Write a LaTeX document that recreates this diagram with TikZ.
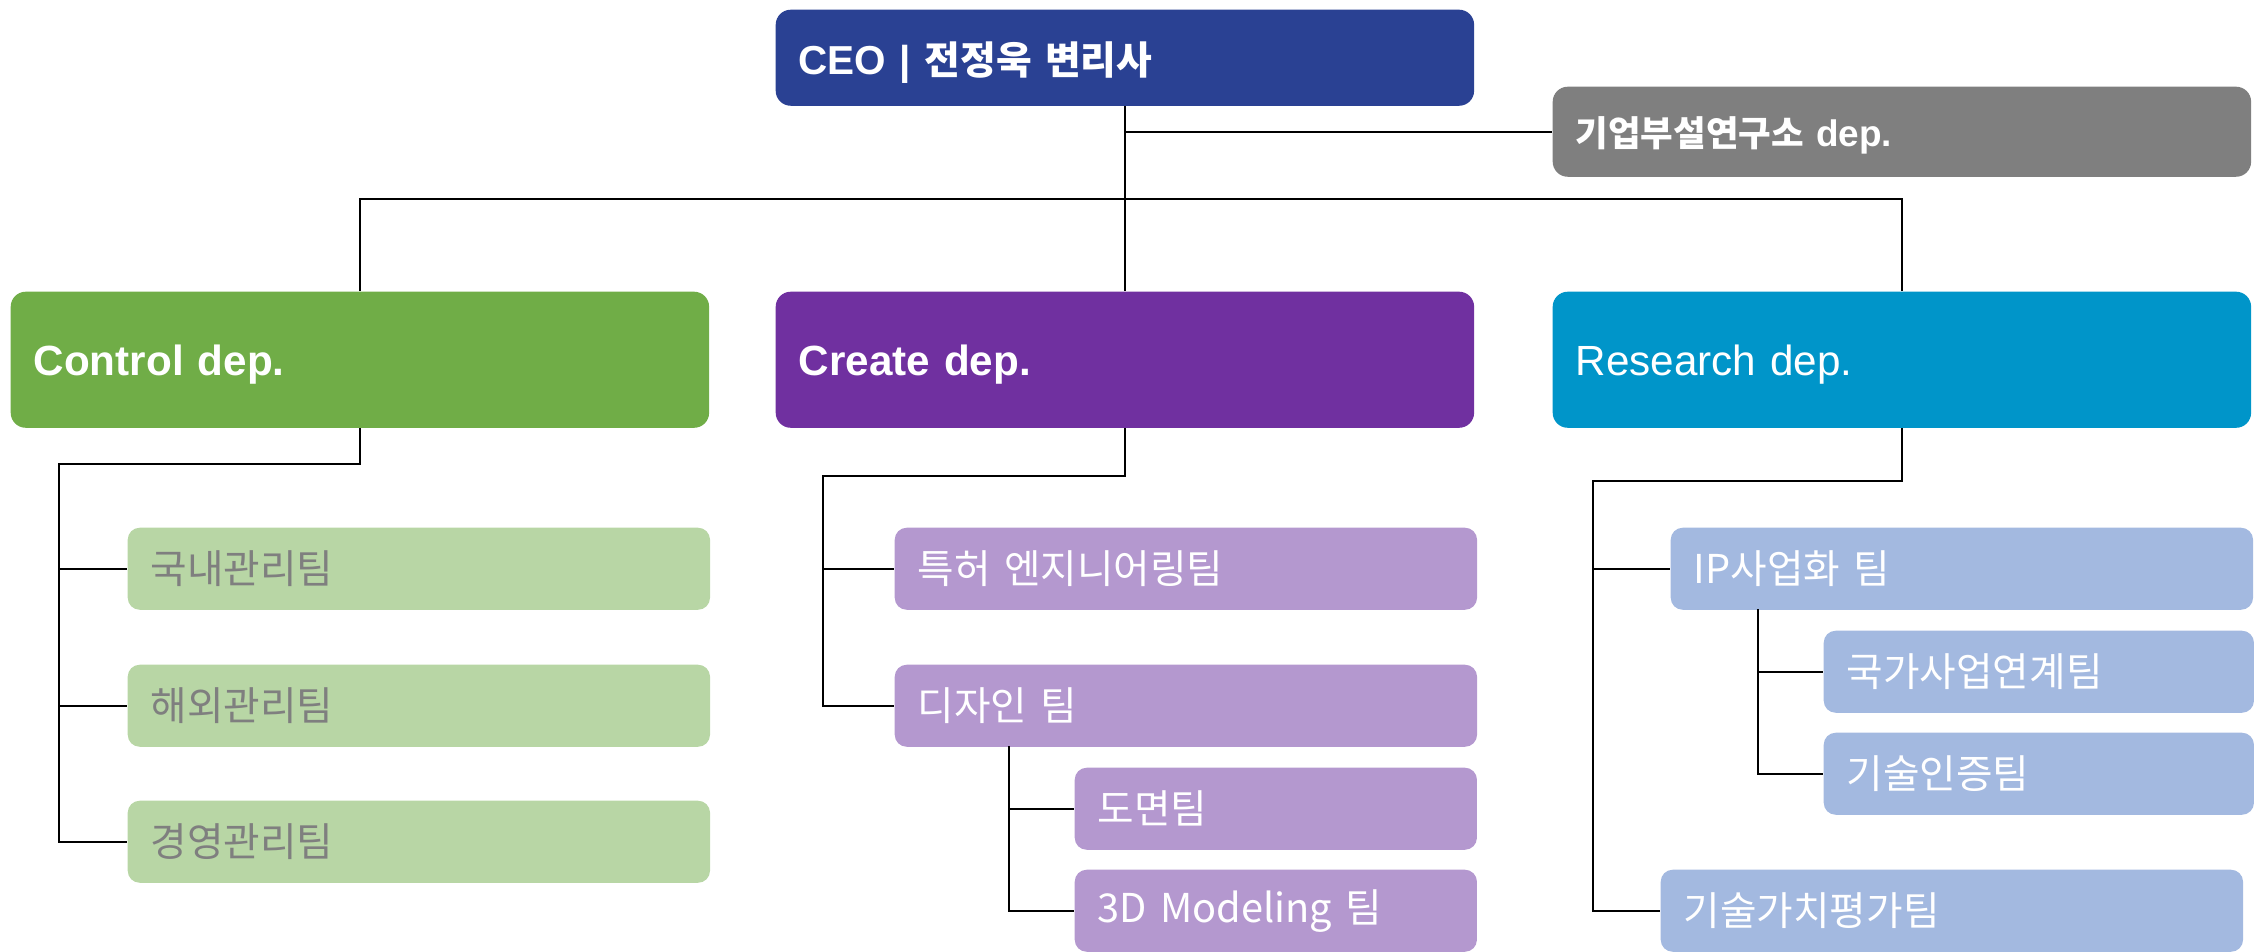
\documentclass[tikz,border=0pt]{standalone}
\usepackage{fontspec}
\setmainfont{Liberation Sans}
\newfontfamily\kr{Noto Sans CJK KR}
\newfontfamily\krhead[Scale=0.96]{Noto Sans CJK KR}
\usetikzlibrary{calc}

\definecolor{ceoblue}{HTML}{2A4193}
\definecolor{labgray}{HTML}{7F7F7F}
\definecolor{ctrlgreen}{HTML}{70AD47}
\definecolor{creapurple}{HTML}{7030A0}
\definecolor{resblue}{HTML}{0095C9}
\definecolor{ctrllight}{HTML}{B8D6A5}
\definecolor{crealight}{HTML}{B498CF}
\definecolor{reslight}{HTML}{A3B9E0}

\tikzset{
  box/.style={anchor=north west, inner xsep=0.23cm, inner ysep=0pt, align=left, text=white},
  head/.style={box, rounded corners=0.15cm, text width=6.52cm, text depth=0pt, font=\fontsize{12}{14}\selectfont\bfseries},
  team/.style={box, rounded corners=0.12cm, minimum height=0.82cm, text width=5.36cm, font=\kr\fontsize{11.3}{13}\selectfont},
  subteam/.style={team, text width=#1},
  link/.style={draw=black, line width=0.6pt}
}

\begin{document}
\begin{tikzpicture}[x=0.01cm, y=-0.01cm]
\useasboundingbox (0,0) rectangle (2260,951);

% top
\node[head, fill=ceoblue, minimum height=0.96cm, font=\fontsize{11.5}{14}\selectfont\bfseries] (ceo) at (775,9) {CEO | {\krhead 전정욱 변리사}};
\node[head, fill=labgray, minimum height=0.90cm, font=\fontsize{10.5}{13}\selectfont\bfseries] (lab) at (1552,86) {{\krhead 기업부설연구소} dep.};

% departments
\node[head, fill=ctrlgreen, minimum height=1.36cm] (ctrl) at (10,291) {Control dep.};
\node[head, fill=creapurple, minimum height=1.36cm] (create) at (775,291) {Create dep.};
\node[head, fill=resblue, minimum height=1.36cm, font=\fontsize{12}{14}\selectfont] (research) at (1552,291) {Research dep.};

% teams
\node[team, fill=ctrllight, text=labgray] (ctA) at (127,527) {국내관리팀};
\node[team, fill=ctrllight, text=labgray] (ctB) at (127,664) {해외관리팀};
\node[team, fill=ctrllight, text=labgray] (ctC) at (127,800) {경영관리팀};

\node[team, fill=crealight] (crA) at (894,527) {특허 엔지니어링팀};
\node[team, fill=crealight] (crB) at (894,664) {디자인 팀};
\node[subteam=3.56cm, fill=crealight] (crB1) at (1074,767) {도면팀};
\node[subteam=3.56cm, fill=crealight] (crB2) at (1074,869) {3D Modeling 팀};

\node[team, fill=reslight] (reA) at (1670,527) {IP사업화 팀};
\node[subteam=3.84cm, fill=reslight] (reA1) at (1823,630) {국가사업연계팀};
\node[subteam=3.84cm, fill=reslight] (reA2) at (1823,732) {기술인증팀};
\node[team, fill=reslight] (reB) at (1660,869) {기술가치평가팀};

% connectors
\coordinate (bus) at (1124,199);
\draw[link] (ceo.south) -- (create.north);
\draw[link] (ceo.south |- lab.west) -- (lab.west);
\draw[link] (ctrl.north) |- (bus) -| (research.north);

\coordinate (ctbus) at (59,464);
\draw[link] (ctrl.south) |- (ctbus) |- (ctC.west);
\draw[link] (ctbus |- ctA.west) -- (ctA.west);
\draw[link] (ctbus |- ctB.west) -- (ctB.west);

\coordinate (crbus) at (823,476);
\draw[link] (create.south) |- (crbus) |- (crB.west);
\draw[link] (crbus |- crA.west) -- (crA.west);

\coordinate (dbus) at (1009,746);
\draw[link] (dbus) |- (crB2.west);
\draw[link] (dbus |- crB1.west) -- (crB1.west);

\coordinate (rebus) at (1593,481);
\draw[link] (research.south) |- (rebus) |- (reB.west);
\draw[link] (rebus |- reA.west) -- (reA.west);

\coordinate (ipbus) at (1758,609);
\draw[link] (ipbus) |- (reA2.west);
\draw[link] (ipbus |- reA1.west) -- (reA1.west);
\end{tikzpicture}
\end{document}
